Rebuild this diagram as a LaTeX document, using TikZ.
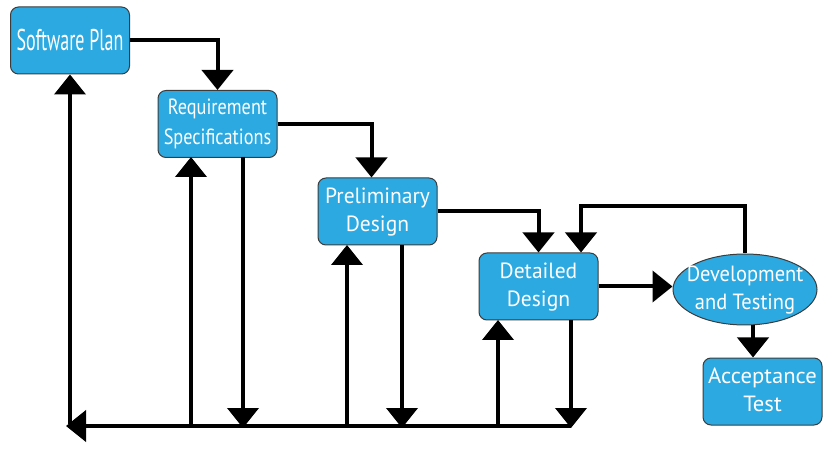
\documentclass[tikz,border=0pt]{standalone}
\usepackage{fontspec}
\setmainfont{PT Sans}
\usetikzlibrary{arrows.meta,shapes.geometric}
\definecolor{boxblue}{HTML}{2CA9E1}
\definecolor{boxedge}{HTML}{3C3C3C}
\newcommand{\stagetext}[2]{\scalebox{#1}[1]{\begin{tabular}{@{}c@{}}#2\end{tabular}}}
\tikzset{
  stagebox/.style={draw=boxedge, line width=1pt, fill=boxblue, rounded corners=8pt,
    minimum width=119pt, minimum height=67pt, inner sep=0pt, text=white,
    align=center, font=\fontsize{22}{28}\selectfont},
  ovalbox/.style={ellipse, draw=boxedge, line width=1pt, fill=boxblue,
    minimum width=144pt, minimum height=71pt, inner xsep=-20pt, inner ysep=-15pt, text=white,
    align=center, font=\fontsize{22}{28}\selectfont},
  arr/.style={line width=4pt, -{Triangle[width=31pt,length=20pt]}}
}
\begin{document}
\begin{tikzpicture}[x=1pt,y=-1pt]
\useasboundingbox (0,0) rectangle (828,449);
\node[stagebox] (sp) at (70,40.5) {\fontsize{30}{30}\selectfont\scalebox{0.6}[1]{Software Plan}};
\node[stagebox, font=\fontsize{22}{30}\selectfont] (rs) at (217.5,124) {\stagetext{0.83}{Requirement\\Specifications}};
\node[stagebox] (pd) at (377.5,211.5) {\stagetext{0.98}{Preliminary\\Design}};
\node[stagebox] (dd) at (538.5,286.5) {\stagetext{0.98}{Detailed\\Design}};
\node[ovalbox] (dt) at (745,289.5) {\stagetext{0.93}{Development\\and Testing}};
\node[stagebox] (at) at (762.5,391.5) {\stagetext{1.03}{Acceptance\\Test}};
\coordinate (bl) at (66,426);
\coordinate (br) at (571,426);
% forward flow
\draw[arr] (sp.east) -| (rs.north);
\draw[arr] (rs.east) -| ([xshift=-6pt]pd.north);
\draw[arr] (pd.east) -| (dd.north);
\draw[arr] (dt.north) |- (581,206) -- ([xshift=42.5pt]dd.north);
\draw[arr] (dd.east) -- (dd.east -| dt.west);
\draw[arr] ([xshift=8pt]dt.south) -- ([xshift=-9.5pt]at.north);
% bottom return line
\draw[arr] (br) -- (bl);
\draw[arr] (70,424) -- (sp.south);
\draw[arr] (191,426) -- (191,157);
\draw[arr] (243,157) -- (243,428);
\draw[arr] (347,426) -- (347,245);
\draw[arr] (402,245) -- (402,428);
\draw[arr] (498,426) -- (498,320);
\draw[arr] (571,320) -- (571,428);
\end{tikzpicture}
\end{document}
